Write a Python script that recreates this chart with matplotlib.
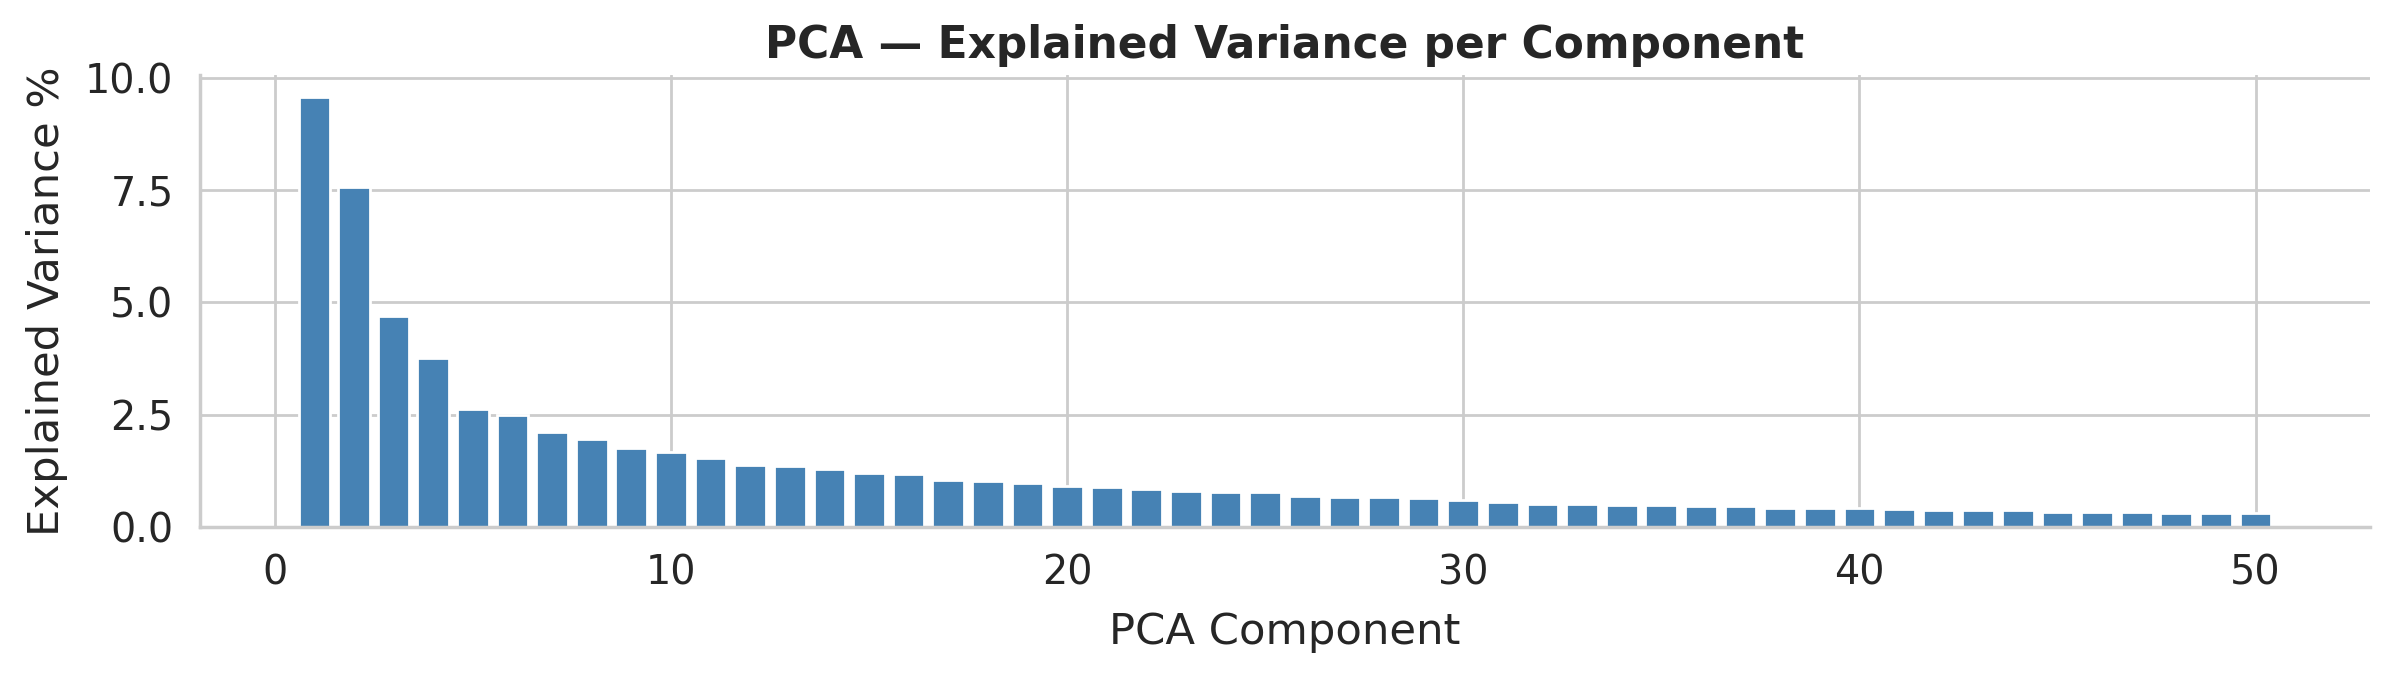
import matplotlib
matplotlib.use("Agg")
import matplotlib.pyplot as plt
import seaborn as sns
import numpy as np

# explained variance (%) per PCA component
components = list(range(1, 51))
explained_pct = [
    9.58, 7.56, 4.69, 3.77, 2.62, 2.50, 2.12, 1.95, 1.76, 1.67,
    1.54, 1.38, 1.35, 1.29, 1.20, 1.18, 1.04, 1.02, 0.97, 0.91,
    0.88, 0.84, 0.79, 0.77, 0.77, 0.68, 0.66, 0.66, 0.64, 0.59,
    0.55, 0.52, 0.50, 0.48, 0.48, 0.46, 0.46, 0.41, 0.41, 0.41,
    0.39, 0.37, 0.37, 0.37, 0.34, 0.34, 0.34, 0.32, 0.32, 0.30,
]

sns.set_theme(style="whitegrid")

fig, ax = plt.subplots(figsize=(11.97, 3.395), dpi=200)
ax.bar(components, explained_pct, color="steelblue", edgecolor="white", linewidth=1)

ax.set_title("PCA — Explained Variance per Component", fontsize=15.8, fontweight="bold")
ax.set_xlabel("PCA Component", fontsize=15.6, labelpad=6.5)
ax.set_ylabel("Explained Variance %", fontsize=15.6, labelpad=6)
ax.tick_params(labelsize=14.3)
sns.despine(ax=ax)

plt.subplots_adjust(left=0.0835, right=0.99, top=0.8895, bottom=0.224)
plt.savefig("out.png", dpi=200)
plt.close()
